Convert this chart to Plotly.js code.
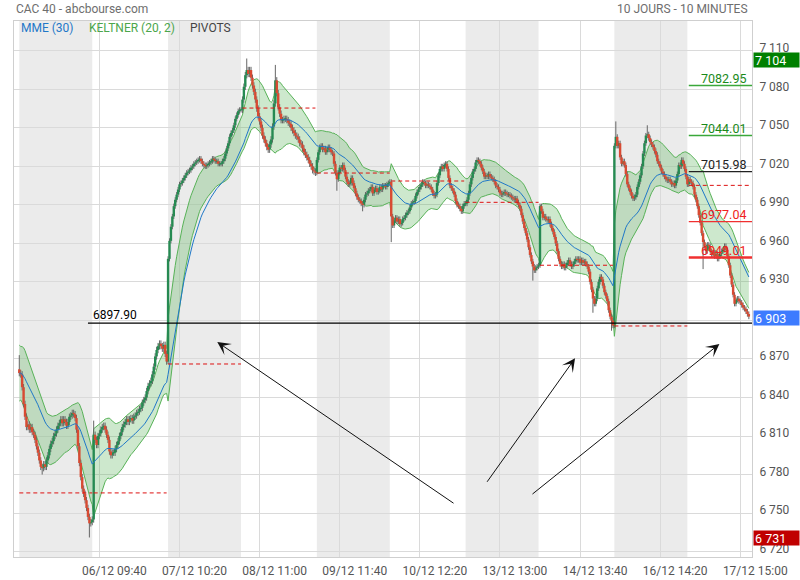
<!DOCTYPE html>
<html><head><meta charset="utf-8">
<script src="https://cdn.plot.ly/plotly-3.0.1.min.js"></script>
<style>html,body{margin:0;padding:0;background:#fff}#chart{width:800px;height:580px}</style>
</head><body><div id="chart"></div>
<script>
// ---------- data ----------
const dayDates = ['03/12','06/12','07/12','08/12','09/12','10/12','13/12','14/12','16/12','17/12'];
const closeA = [6859,6858,6848,6835,6825,6817,6819,6815,6817,6813,6811,6807,6802,6797,6791,6786,6785,6788,6786,6791,6795,6800,6804,6806,6810,6812,6815,6818,6820,6823,6820,6823,6821,6818,6821,6825,6826,6828,6827,6824,6815,6802,6789,6778,6769,6765,6760,6754,6747,6742,6743,6745];
const closeB = [6811,6807,6803,6810,6812,6815,6817,6818,6815,6811,6807,6798,6795,6797,6797,6800,6803,6806,6810,6813,6817,6819,6821,6823,6821,6823,6824,6822,6825,6826,6828,6829,6831,6832,6836,6838,6840,6845,6849,6851,6853,6858,6864,6872,6877,6880,6882,6880,6878,6881,6874,6868];
const closeC = [6948,6962,6973,6981,6989,6994,6998,7002,7006,7007,7009,7011,7013,7015,7016,7017,7019,7020,7022,7023,7024,7025,7026,7024,7022,7021,7020,7021,7022,7023,7024,7026,7025,7024,7024,7022,7022,7022,7024,7026,7030,7034,7038,7043,7046,7048,7052,7057,7060,7063,7064,7064];
const closeD = [7072,7082,7091,7095,7092,7095,7089,7083,7078,7072,7065,7059,7055,7050,7044,7041,7038,7035,7033,7037,7041,7051,7069,7087,7077,7066,7061,7056,7056,7057,7057,7056,7054,7053,7050,7048,7046,7044,7043,7041,7038,7037,7034,7031,7029,7027,7025,7022,7020,7017,7016,7015];
const closeE = [7025,7031,7035,7036,7033,7034,7031,7033,7035,7033,7031,7030,7022,7015,7010,7015,7019,7018,7021,7017,7012,7008,7006,7007,7011,7007,7003,6999,6996,6994,6993,6991,6990,6994,6998,6999,7001,7002,7004,6999,7002,7003,7000,7001,7004,7002,7005,7005,7004,7006,7007,7008];
const closeF = [6981,6974,6978,6980,6977,6979,6975,6976,6979,6980,6982,6984,6985,6988,6991,6992,6993,6997,7000,7002,7004,7006,7008,7007,7005,7006,7005,7004,7002,6999,6997,6998,7007,7013,7018,7020,7018,7021,7022,7018,7011,7005,7003,7001,6998,6993,6990,6989,6987,6985,6989,6991];
const closeG = [6991,6994,6999,7006,7011,7016,7018,7023,7025,7024,7022,7019,7016,7012,7013,7012,7014,7012,7011,7010,7008,7005,7004,7002,6999,6998,6999,7000,6999,6998,6998,6997,6996,6995,6994,6995,6992,6990,6987,6982,6977,6972,6968,6963,6957,6951,6946,6942,6939,6941,6942,6943];
const closeH = [6989,6985,6980,6981,6979,6978,6979,6975,6972,6969,6965,6960,6954,6948,6944,6942,6944,6941,6943,6945,6947,6944,6942,6944,6946,6948,6947,6948,6945,6947,6945,6946,6944,6942,6938,6930,6924,6917,6913,6917,6925,6930,6934,6932,6927,6922,6919,6915,6908,6903,6900,6896];
const closeI = [7036,7043,7036,7038,7027,7022,7024,7021,7014,7006,7003,7000,6997,6995,6996,6998,7004,7008,7013,7020,7030,7038,7044,7045,7042,7039,7037,7035,7032,7029,7024,7022,7019,7016,7014,7012,7010,7009,7010,7008,7006,7007,7005,7009,7014,7021,7020,7025,7022,7018,7012,7006];
const closeJ = [7010,7008,7007,7004,6998,6994,6989,6982,6976,6968,6961,6958,6954,6959,6958,6954,6951,6953,6950,6952,6948,6950,6952,6954,6955,6958,6955,6950,6943,6935,6928,6920,6913,6916,6917,6915,6914,6912,6910,6909,6907,6905,6903];
const dayCloses = [closeA, closeB, closeC, closeD, closeE, closeF, closeG, closeH, closeI, closeJ];
const firstOpen = 6862;
const dayWick = [2.5, 2.5, 2, 2.5, 2, 2, 2, 2, 2, 2];
const highSpikes = [[0,6873],[52,6822],[159,7104],[179,7099],[417,7055],[439,7052]];
const lowSpikes = [[16,6780],[49,6731],[222,7001],[240,6985],[260,6961],[359,6931],[401,6906],[414,6892],[478,6940]];
const dayRefLevels = [6765.7, 6765.7, 6866.1, 7065.4, 7014.8, 7008.6, 6992.0, 6943.0, 6895.7, 7005.2];
const pivotLevels = [7082.95, 7044.01, 7015.98, 6977.04, 6949.01];
const supportLevel = 6897.90;
const supportStart = 48;
const tickLabels = ['06/12 09:40','07/12 10:20','08/12 11:00','09/12 11:40','10/12 12:20','13/12 13:00','14/12 13:40','16/12 14:20','17/12 15:00'];
const priceTicks = [6720,6750,6780,6810,6840,6870,6900,6930,6960,6990,7020,7050,7080,7110];
const arrows = [
  {head:[138.4,6883.2], tail:[304.6,6756.9]},
  {head:[388.5,6870.5], tail:[326.3,6773.2]},
  {head:[489.4,6881.7], tail:[357.7,6763.9]}
];

// ---------- styles ----------
const GREEN_C = '#268a52', RED_C = '#d84a32', WICK = '#666666';
const KELT = 'rgb(88,178,88)', KELT_FILL = 'rgba(88,178,88,0.3)', EMA_C = '#1f78c8';
const pivotColors = ['#3aa83a','#3aa83a','#222','#f03030','#f03030'];
const pivotText = ['#1a8a1a','#1a8a1a','#222','#f02020','#f02020'];
const pivotWidth = [1.5,1.5,1.2,1.2,2.5];
const FONT = 'Roboto, Arial, sans-serif';

// ---------- build ----------
const closes = [].concat(...dayCloses);
const N = closes.length;
const dayStart = []; let acc = 0;
dayCloses.forEach(d => { dayStart.push(acc); acc += d.length; });
const dayOf = []; dayCloses.forEach((d,k) => d.forEach(() => dayOf.push(k)));
const idx = closes.map((c,i) => i);
const opens = closes.map((c,i) => i === 0 ? firstOpen : closes[i-1]);
const highs = closes.map((c,i) => Math.max(c, opens[i]) + dayWick[dayOf[i]]);
const lows = closes.map((c,i) => Math.min(c, opens[i]) - dayWick[dayOf[i]]);
highSpikes.forEach(([i,v]) => { highs[i] = Math.max(highs[i], v); });
lowSpikes.forEach(([i,v]) => { lows[i] = Math.min(lows[i], v); });

function ema(a, n){ const k = 2/(n+1); let e = a[0]; return a.map((v,i) => (e = i === 0 ? v : e + k*(v-e))); }
const tr = closes.map((c,i) => i === 0 ? highs[i]-lows[i] :
  Math.max(highs[i]-lows[i], Math.abs(highs[i]-closes[i-1]), Math.abs(lows[i]-closes[i-1])));
const atrSeed = tr.slice(0,20).reduce((s,v)=>s+v,0)/20;
const kAtr = 2/21; let atrV = atrSeed;
const atr = tr.map(v => (atrV = atrV + kAtr*(v-atrV)));
const mid = ema(closes, 20);
const upper = mid.map((m,i) => m + 2*atr[i]);
const lower = mid.map((m,i) => m - 2*atr[i]);
const mme = ema(closes, 30);

const wx = [], wy = [];
idx.forEach(i => { wx.push(i,i,null); wy.push(lows[i], highs[i], null); });
const gx = [], gy = [], rx = [], ry = [];
idx.forEach(i => {
  const o = opens[i], c = closes[i];
  let lo = Math.min(o,c), hi = Math.max(o,c);
  if (hi - lo < 1) { const m = (hi+lo)/2; lo = m-0.5; hi = m+0.5; }
  if (c >= o) { gx.push(i,i,null); gy.push(lo,hi,null); } else { rx.push(i,i,null); ry.push(lo,hi,null); }
});

const xMin = -3.7, xMax = 512.2;
const last = N - 1;

const dx = [], dy = [];
dayCloses.forEach((d,k) => {
  const end = dayStart[k] + Math.min(d.length - 1, 51);
  dx.push(dayStart[k], end, null); dy.push(dayRefLevels[k], dayRefLevels[k], null);
});

const traces = [
  {x: idx, y: lower, type:'scatter', mode:'lines', line:{color:KELT, width:1}, hoverinfo:'skip'},
  {x: idx, y: upper, type:'scatter', mode:'lines', line:{color:KELT, width:1}, fill:'tonexty', fillcolor:KELT_FILL, hoverinfo:'skip'},
  {x: wx, y: wy, type:'scatter', mode:'lines', line:{color:WICK, width:1}, hoverinfo:'skip'},
  {x: gx, y: gy, type:'scatter', mode:'lines', line:{color:GREEN_C, width:2.4}, hoverinfo:'skip'},
  {x: rx, y: ry, type:'scatter', mode:'lines', line:{color:RED_C, width:2.4}, hoverinfo:'skip'},
  {x: idx, y: mme, type:'scatter', mode:'lines', line:{color:EMA_C, width:1}, hoverinfo:'skip'},
  {x: dx, y: dy, type:'scatter', mode:'lines', line:{color:'#dd1111', width:1, dash:'4px,3px'}, hoverinfo:'skip'},
  {x: [supportStart, xMax], y: [supportLevel, supportLevel], type:'scatter', mode:'lines', line:{color:'#000', width:1.2}, hoverinfo:'skip'}
];
pivotLevels.forEach((p,k) => traces.push({x:[dayStart[9], xMax], y:[p,p], type:'scatter', mode:'lines',
  line:{color:pivotColors[k], width:pivotWidth[k]}, hoverinfo:'skip'}));

const sessionStart = 9*60, barMinutes = 10;
const tickVals = tickLabels.map(l => {
  const [d,t] = l.split(' '); const k = dayDates.indexOf(d);
  const [hh,mm] = t.split(':').map(Number);
  return dayStart[k] + (hh*60+mm-sessionStart)/barMinutes;
});

const shapes = [];
dayCloses.forEach((d,k) => { if (k % 2 === 0) shapes.push({type:'rect', xref:'x', yref:'paper', x0:dayStart[k], x1:dayStart[k]+Math.min(d.length-1,51), y0:0, y1:1, fillcolor:'#ebebeb', line:{width:0}, layer:'below'}); });

const fmt = n => String(Math.round(n)).replace(/\B(?=(\d{3})+(?!\d))/g, ' ');
const hi = Math.max(...highs), lo = Math.min(...lows);
const lastClose = closes[last];
const priceTickText = priceTicks.map(v => Math.abs(v - lastClose) < 8 ? '' : fmt(v));

const ann = [
  {xref:'paper', yref:'paper', x:0, y:1.0233, xanchor:'left', yanchor:'middle', text:'CAC 40 - abcbourse.com', showarrow:false, font:{family:FONT, size:12, color:'#6e6e6e'}},
  {xref:'paper', yref:'paper', x:0.9973, y:1.0233, xanchor:'right', yanchor:'middle', text:'10 JOURS - 10 MINUTES', showarrow:false, font:{family:FONT, size:12, color:'#6e6e6e'}},
  {xref:'paper', yref:'paper', x:0.0068, y:0.9869, xanchor:'left', yanchor:'middle', text:'MME (30)', showarrow:false, font:{family:FONT, size:12, color:EMA_C}},
  {xref:'paper', yref:'paper', x:0.0989, y:0.9869, xanchor:'left', yanchor:'middle', text:'KELTNER (20, 2)', showarrow:false, font:{family:FONT, size:12, color:'#4ca64c'}},
  {xref:'paper', yref:'paper', x:0.2358, y:0.9869, xanchor:'left', yanchor:'middle', text:'PIVOTS', showarrow:false, font:{family:FONT, size:12, color:'#444'}},
  {xref:'x', yref:'y', x:supportStart, y:supportLevel, xanchor:'left', yanchor:'bottom', xshift:3, yshift:-1, text:supportLevel.toFixed(2), showarrow:false, font:{family:FONT, size:12, color:'#000'}}
];
pivotLevels.forEach((p,k) => ann.push({xref:'paper', yref:'y', x:1, y:p, xanchor:'right', yanchor:'bottom', xshift:-4, yshift:-2,
  text:p.toFixed(2), showarrow:false, font:{family:FONT, size:12.5, color:pivotText[k]}}));
[[hi,'#008000'],[lo,'#c00000'],[lastClose,'#3d7bff']].forEach(([v,c]) => ann.push({xref:'paper', yref:'y', x:1, y:v,
  xanchor:'left', yanchor:'middle', xshift:1, yshift:-1, text:fmt(v), showarrow:false, bgcolor:c, width:43, height:12, borderpad:1, align:'left',
  font:{family:FONT, size:12.5, color:'#fff'}}));
arrows.forEach(a => ann.push({xref:'x', yref:'y', axref:'x', ayref:'y', x:a.head[0], y:a.head[1], ax:a.tail[0], ay:a.tail[1],
  text:'', showarrow:true, arrowhead:3, arrowsize:2.2, arrowwidth:1, arrowcolor:'#111', standoff:0}));

const layout = {
  width:800, height:580, margin:{l:14, r:48, t:21, b:23},
  paper_bgcolor:'#fff', plot_bgcolor:'#fff', showlegend:false, hovermode:false,
  separators:'. ', font:{family:FONT, size:12, color:'#555'},
  xaxis:{range:[xMin,xMax], tickvals:tickVals, ticktext:tickLabels, ticks:'', showgrid:true, gridcolor:'#dadada', gridwidth:1,
    zeroline:false, showline:true, linecolor:'#cfcfcf', mirror:true, ticklabelshift:15, ticklabelstandoff:3, tickfont:{family:FONT, size:12, color:'#555'}},
  yaxis:{side:'right', range:[6715.8,7133.2], tickvals:priceTicks, ticktext:priceTickText, ticks:'', showgrid:true, gridcolor:'#dadada',
    zeroline:false, showline:true, linecolor:'#cfcfcf', mirror:true, ticklabelshift:-3, ticklabelstandoff:4, tickfont:{family:FONT, size:12, color:'#555'}},
  shapes: shapes, annotations: ann
};
Plotly.newPlot('chart', traces, layout, {staticPlot:true, displayModeBar:false});
</script></body></html>
